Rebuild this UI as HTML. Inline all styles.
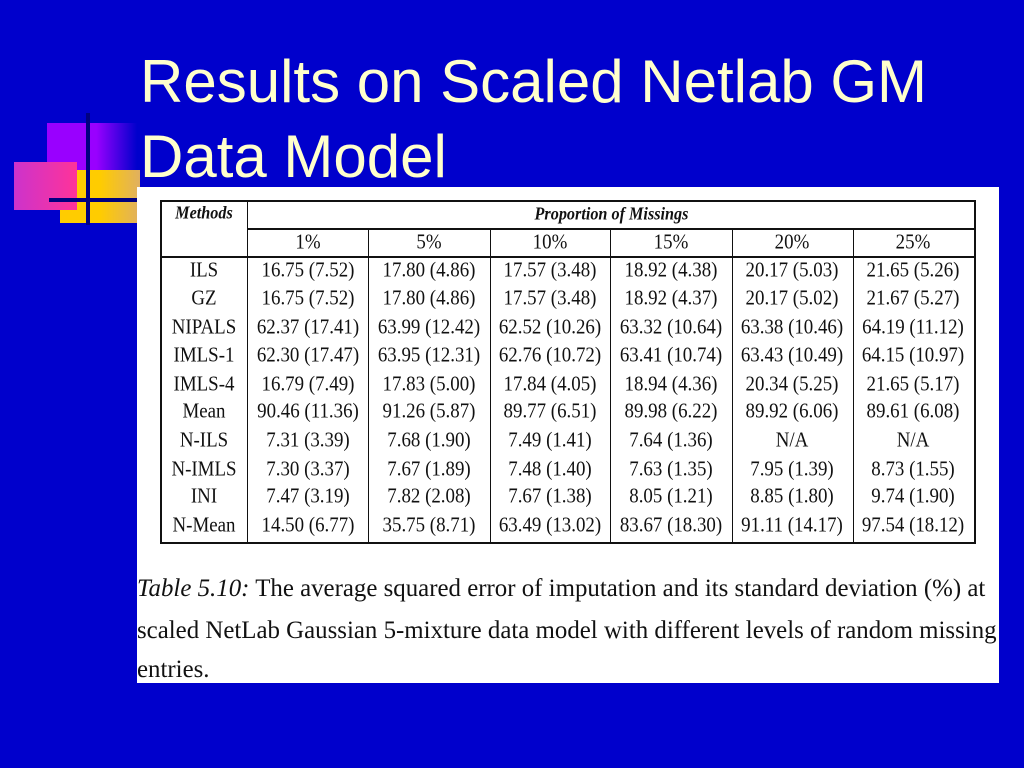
<!DOCTYPE html>
<html><head><style>
body{margin:0;width:1024px;height:768px;background:#0000cc;position:relative;overflow:hidden;font-family:"Liberation Serif",serif}
.t{position:absolute;left:140px;color:#ffffcc;font-family:"Liberation Sans",sans-serif;font-size:60px;white-space:nowrap;line-height:60px;transform-origin:0 0;transform:scaleX(1.0)}
.a{position:absolute}
.c{position:absolute;width:120px;text-align:center;font-size:21px;color:#111;white-space:nowrap;transform:translateY(-50%) scaleX(0.9)}
.m{width:88px}
.l{position:absolute;background:#111}
.cap{position:absolute;left:137px;font-size:25px;color:#111;white-space:nowrap;transform-origin:0 0;transform:scaleX(0.995)}
</style></head><body>
<div class="a" style="left:47px;top:123px;width:90px;height:87px;background:linear-gradient(90deg,#9900ff 0%,#9900ff 55%,#0000cc 100%)"></div>
<div class="a" style="left:60px;top:170px;width:80px;height:53px;background:linear-gradient(90deg,#ffcc00 0%,#ffcc00 50%,#e0b060 100%)"></div>
<div class="a" style="left:14px;top:162px;width:63px;height:48px;background:linear-gradient(90deg,#cc33cc,#ff3399)"></div>
<div class="a" style="left:86px;top:113px;width:4px;height:112px;background:#000080"></div>
<div class="a" style="left:49px;top:198px;width:90px;height:4px;background:#000080"></div>
<div class="t" style="top:52px">Results on Scaled Netlab GM</div>
<div class="t" style="top:127px">Data Model</div>
<div class="a" style="left:137px;top:187px;width:862px;height:496px;background:#fff"></div>
<div class="l" style="left:160px;top:200px;width:815px;height:2px"></div>
<div class="l" style="left:160px;top:542px;width:815px;height:2px"></div>
<div class="l" style="left:160px;top:200px;width:2px;height:344px"></div>
<div class="l" style="left:974px;top:200px;width:2px;height:344px"></div>
<div class="l" style="left:248px;top:228px;width:727px;height:2px"></div>
<div class="l" style="left:160px;top:256px;width:815px;height:2px"></div>
<div class="l" style="left:247px;top:200px;width:1px;height:344px"></div>
<div class="l" style="left:368px;top:229px;width:1px;height:315px"></div>
<div class="l" style="left:490px;top:229px;width:1px;height:315px"></div>
<div class="l" style="left:610px;top:229px;width:1px;height:315px"></div>
<div class="l" style="left:732px;top:229px;width:1px;height:315px"></div>
<div class="l" style="left:853px;top:229px;width:1px;height:315px"></div>
<div class="c m" style="left:160px;top:213px;font-style:italic;font-weight:bold;font-size:18px">Methods</div>
<div class="c" style="left:248px;top:214px;width:727px;font-style:italic;font-weight:bold;font-size:18px">Proportion of Missings</div>
<div class="c" style="left:248px;top:242px">1%</div>
<div class="c" style="left:369px;top:242px">5%</div>
<div class="c" style="left:490px;top:242px">10%</div>
<div class="c" style="left:611px;top:242px">15%</div>
<div class="c" style="left:732px;top:242px">20%</div>
<div class="c" style="left:853px;top:242px">25%</div>
<div id="rows"></div>
<script>
var d=[["ILS","16.75 (7.52)","17.80 (4.86)","17.57 (3.48)","18.92 (4.38)","20.17 (5.03)","21.65 (5.26)"],
["GZ","16.75 (7.52)","17.80 (4.86)","17.57 (3.48)","18.92 (4.37)","20.17 (5.02)","21.67 (5.27)"],
["NIPALS","62.37 (17.41)","63.99 (12.42)","62.52 (10.26)","63.32 (10.64)","63.38 (10.46)","64.19 (11.12)"],
["IMLS-1","62.30 (17.47)","63.95 (12.31)","62.76 (10.72)","63.41 (10.74)","63.43 (10.49)","64.15 (10.97)"],
["IMLS-4","16.79 (7.49)","17.83 (5.00)","17.84 (4.05)","18.94 (4.36)","20.34 (5.25)","21.65 (5.17)"],
["Mean","90.46 (11.36)","91.26 (5.87)","89.77 (6.51)","89.98 (6.22)","89.92 (6.06)","89.61 (6.08)"],
["N-ILS","7.31 (3.39)","7.68 (1.90)","7.49 (1.41)","7.64 (1.36)","N/A","N/A"],
["N-IMLS","7.30 (3.37)","7.67 (1.89)","7.48 (1.40)","7.63 (1.35)","7.95 (1.39)","8.73 (1.55)"],
["INI","7.47 (3.19)","7.82 (2.08)","7.67 (1.38)","8.05 (1.21)","8.85 (1.80)","9.74 (1.90)"],
["N-Mean","14.50 (6.77)","35.75 (8.71)","63.49 (13.02)","83.67 (18.30)","91.11 (14.17)","97.54 (18.12)"]];
var ys=[270,298,327,355,384,411,440,469,496,525],xs=[160,248,369,490,611,732,853],h="";
d.forEach(function(r,i){r.forEach(function(v,j){h+='<div class="c'+(j?'':' m')+'" style="left:'+xs[j]+'px;top:'+ys[i]+'px">'+v+'</div>';});});
document.getElementById('rows').innerHTML=h;
</script>
<div class="cap" style="top:575px"><i>Table 5.10:</i> The average squared error of imputation and its standard deviation (%) at</div>
<div class="cap" style="top:617px">scaled NetLab Gaussian 5-mixture data model with different levels of random missing</div>
<div class="cap" style="top:656px">entries.</div>
</body></html>
